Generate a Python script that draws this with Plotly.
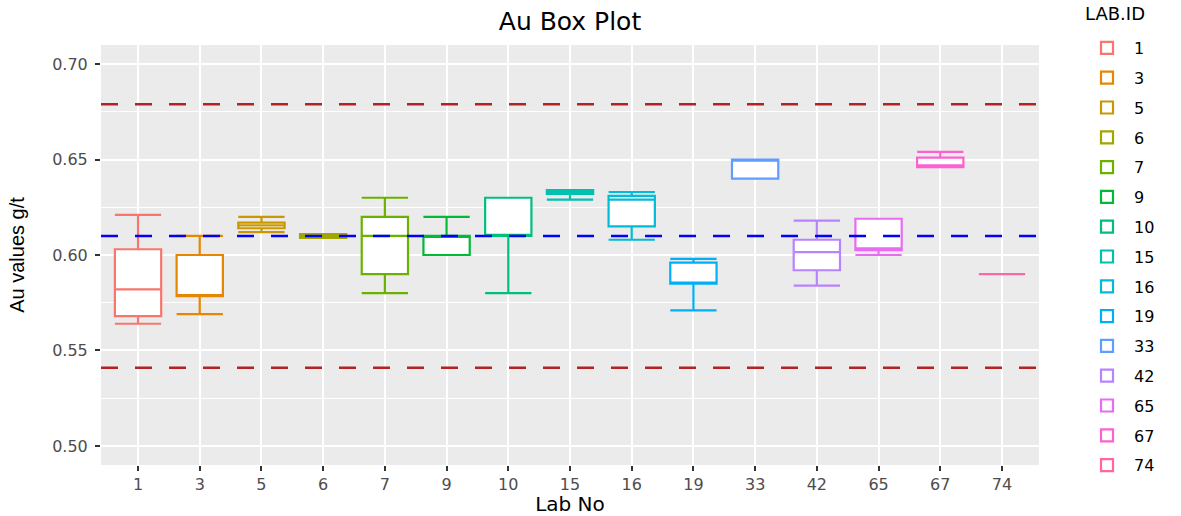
import plotly.graph_objects as go

labs = ["1", "3", "5", "6", "7", "9", "10", "15", "16", "19", "33", "42", "65", "67", "74"]
lower_fence = [0.564, 0.569, 0.612, 0.609, 0.580, 0.600, 0.580, 0.629, 0.608, 0.571, 0.640, 0.584, 0.600, 0.646, 0.590]
q1_vals =     [0.568, 0.5785, 0.614, 0.609, 0.590, 0.600, 0.610, 0.632, 0.615, 0.585, 0.640, 0.592, 0.6025, 0.646, 0.590]
median_vals = [0.582, 0.579, 0.6155, 0.610, 0.610, 0.610, 0.610, 0.633, 0.629, 0.585, 0.650, 0.6015, 0.6035, 0.647, 0.590]
q3_vals =     [0.603, 0.600, 0.617, 0.611, 0.620, 0.610, 0.630, 0.634, 0.631, 0.596, 0.650, 0.608, 0.619, 0.651, 0.590]
upper_fence = [0.621, 0.610, 0.620, 0.611, 0.630, 0.620, 0.630, 0.634, 0.633, 0.598, 0.650, 0.618, 0.619, 0.654, 0.590]
colors = ["#F8766D", "#E58700", "#C99800", "#A3A500", "#6BB100", "#00BA38", "#00BF7D", "#00C0AF",
          "#00BCD8", "#00B0F6", "#619CFF", "#B983FF", "#E76BF3", "#FD61D1", "#FF67A4"]

ref_value = 0.61
upper_limit = 0.679
lower_limit = 0.541

W, H = 1181, 516
L, R, T, B = 101, 142, 45, 51
PW, PH = W - L - R, H - T - B

fig = go.Figure()
for i, lab in enumerate(labs):
    fig.add_trace(go.Box(
        x=[lab], q1=[q1_vals[i]], median=[median_vals[i]], q3=[q3_vals[i]],
        lowerfence=[lower_fence[i]], upperfence=[upper_fence[i]],
        name=lab, legendgroup=lab,
        line=dict(color=colors[i], width=2.2), fillcolor="white",
        width=0.75, whiskerwidth=1, boxpoints=False, hoverinfo="skip",
    ))

for val, col in [(upper_limit, "#B22222"), (lower_limit, "#B22222"), (ref_value, "#0000FF")]:
    fig.add_shape(type="line", xref="paper", x0=0, x1=1, yref="y", y0=val, y1=val,
                  line=dict(color=col, width=2.5, dash="17px,17px"), layer="above")

fig.add_annotation(text="LAB.ID", xref="paper", yref="paper",
                   x=(1083 - L) / PW, y=(H - B - 13) / PH, xanchor="left", yanchor="middle",
                   showarrow=False, font=dict(family="DejaVu Sans", size=18, color="#000000"))

fig.update_layout(
    width=W, height=H,
    margin=dict(l=L, r=R, t=T, b=B, autoexpand=False),
    paper_bgcolor="white", plot_bgcolor="#EBEBEB",
    boxmode="overlay",
    title=dict(text="Au Box Plot", x=0.5, xref="paper", y=1 - 21 / H, yref="container",
               xanchor="center", yanchor="middle",
               font=dict(family="DejaVu Sans", size=25, color="#000000")),
    xaxis=dict(type="category", categoryorder="array", categoryarray=labs,
               range=[-0.6, len(labs) - 0.4],
               showgrid=True, gridcolor="white", gridwidth=2,
               ticks="outside", ticklen=5, tickcolor="#333333", tickwidth=2,
               tickfont=dict(family="DejaVu Sans", size=16, color="#4D4D4D"),
               title=dict(text="Lab No", font=dict(family="DejaVu Sans", size=20, color="#000000"), standoff=3),
               zeroline=False, showline=False),
    yaxis=dict(range=[0.49, 0.71], tickvals=[0.50, 0.55, 0.60, 0.65, 0.70], tickformat=".2f",
               showgrid=True, gridcolor="white", gridwidth=2,
               minor=dict(tickvals=[0.525, 0.575, 0.625, 0.675], showgrid=True, gridcolor="white", gridwidth=1),
               ticks="outside", ticklen=5, tickcolor="#333333", tickwidth=2,
               ticklabelstandoff=4,
               tickfont=dict(family="DejaVu Sans", size=16, color="#4D4D4D"),
               title=dict(text="Au values g/t", font=dict(family="Liberation Sans", size=20, color="#000000"), standoff=22),
               zeroline=False, showline=False),
    legend=dict(font=dict(family="DejaVu Sans", size=16, color="#000000"),
                x=(1080 - L) / PW, xanchor="left", y=(H - B - 31) / PH, yanchor="top",
                itemwidth=44, tracegroupgap=6, bgcolor="rgba(0,0,0,0)", maxheight=500),
    showlegend=True,
)

fig.write_html("out.html", config={"displayModeBar": False},
               post_script="document.body.style.margin='0';document.body.style.padding='0';")
